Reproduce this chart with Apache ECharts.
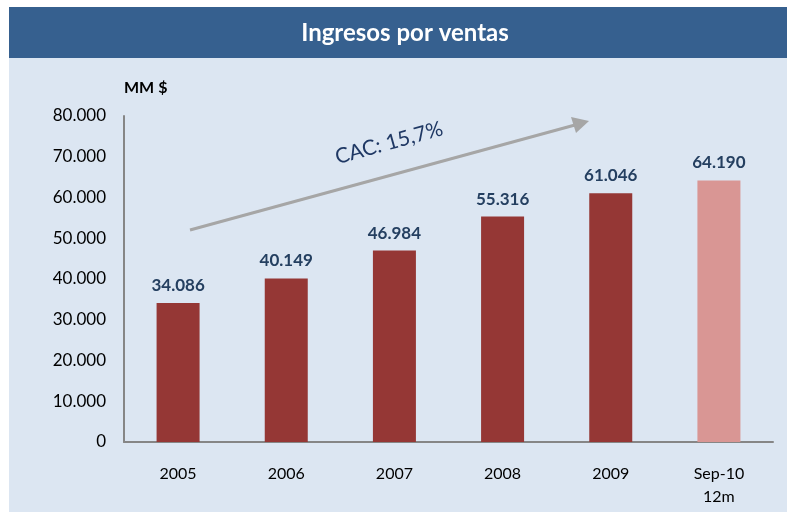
<!DOCTYPE html>
<html>
<head>
<meta charset="utf-8">
<script src="https://cdn.jsdelivr.net/npm/echarts@6/dist/echarts.min.js"></script>
<style>
  html, body { margin: 0; padding: 0; background: #fff; }
  #chart_main { width: 787px; height: 512px; }
</style>
</head>
<body>
<div id="chart_main"></div>
<script>
// datos
var categories = ['2005', '2006', '2007', '2008', '2009', 'Sep-10\n12m'];
var ingresos = [34086, 40149, 46984, 55316, 61046, 64190];
var yTicks = [0, 10000, 20000, 30000, 40000, 50000, 60000, 70000, 80000];

var fontName = 'Lato, "Open Sans", sans-serif';

function fmtMiles(v) {
    return String(v).replace(/\B(?=(\d{3})+(?!\d))/g, '.');
}

var myChart = echarts.init(document.getElementById('chart_main'));
var option = {
    animation: false,
    backgroundColor: '#fff',
    graphic: [
        // fondo
        { type: 'rect', left: 9, top: 58, shape: { width: 778, height: 454 }, style: { fill: '#dce6f2' }, z: -10 },
        // barra titulo
        { type: 'rect', left: 9, top: 7, shape: { width: 778, height: 51 }, style: { fill: '#36608f' }, z: -5 },
        {
            type: 'text', x: 405, y: 33,
            style: { text: 'Ingresos por ventas', fill: '#fff', font: 'bold 24px ' + fontName, align: 'center', verticalAlign: 'middle' }
        },
        {
            type: 'text', x: 124, y: 88,
            style: { text: 'MM $', fill: '#000', font: 'bold 16px ' + fontName, align: 'left', verticalAlign: 'middle' }
        },
        // flecha CAC
        {
            type: 'line', z: 5,
            shape: { x1: 190, y1: 230, x2: 575, y2: 125 },
            style: { stroke: '#a6a6a6', lineWidth: 3 }
        },
        {
            type: 'polygon', z: 5,
            shape: { points: [[589, 121], [571, 117], [576, 133]] },
            style: { fill: '#a6a6a6' }
        },
        {
            type: 'text', x: 389, y: 143, rotation: 15.5 * Math.PI / 180,
            style: { text: 'CAC: 15,7%', fill: '#1f3864', font: '21px ' + fontName, align: 'center', verticalAlign: 'middle' }
        }
    ],
    grid: {
        left: 124,
        right: 14,
        top: 116,
        bottom: 70
    },
    xAxis: {
        type: 'category',
        data: categories,
        axisTick: { show: false },
        axisLine: { lineStyle: { color: '#868686', width: 2 } },
        axisLabel: {
            color: '#000',
            fontFamily: fontName,
            fontSize: 16,
            lineHeight: 23,
            margin: 20
        }
    },
    yAxis: {
        type: 'value',
        min: yTicks[0],
        max: yTicks[yTicks.length - 1],
        interval: 10000,
        splitLine: { show: false },
        axisTick: { show: false },
        axisLine: { show: true, lineStyle: { color: '#868686', width: 2 } },
        axisLabel: {
            color: '#000',
            fontFamily: fontName,
            fontSize: 17,
            margin: 18,
            formatter: function (v) { return fmtMiles(v); }
        }
    },
    series: [
        {
            type: 'bar',
            barWidth: 43,
            data: ingresos.map(function (v, i) {
                return {
                    value: v,
                    itemStyle: { color: i === ingresos.length - 1 ? '#d99694' : '#953735' }
                };
            }),
            label: {
                show: true,
                position: 'top',
                distance: 9,
                color: '#243f60',
                fontFamily: fontName,
                fontWeight: 'bold',
                fontSize: 17,
                formatter: function (p) { return fmtMiles(p.value); }
            }
        }
    ]
};
myChart.setOption(option);
</script>
</body>
</html>
